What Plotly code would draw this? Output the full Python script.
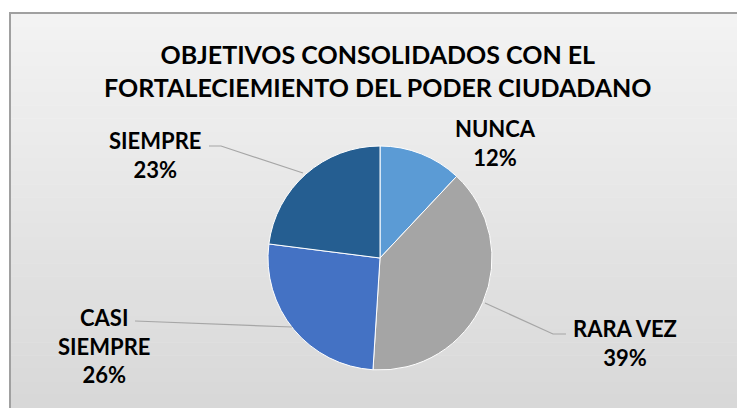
import plotly.graph_objects as go

# ---- data ----
title_lines = ["OBJETIVOS CONSOLIDADOS CON EL", "FORTALECIEMIENTO DEL PODER CIUDADANO"]
categories = ["NUNCA", "RARA VEZ", "CASI SIEMPRE", "SIEMPRE"]
label_text = ["NUNCA", "RARA VEZ", "CASI<br>SIEMPRE", "SIEMPRE"]
values = [12, 39, 26, 23]
colors = ["#5B9BD5", "#A5A5A5", "#4472C4", "#255E91"]

W, H = 737, 408
FONT = "Lato, Calibri, 'Open Sans', sans-serif"

def px(X):
    return X / W

def py(Y):
    return 1 - Y / H

# pie placement (screen pixels)
cx, cy, r = 380, 258, 112

fig = go.Figure()
fig.add_trace(go.Pie(
    labels=categories,
    values=values,
    sort=False,
    direction="clockwise",
    rotation=0,
    textinfo="none",
    hoverinfo="label+percent",
    marker=dict(colors=colors, line=dict(color="#ffffff", width=1)),
    domain=dict(x=[px(cx - r), px(cx + r)], y=[py(cy + r), py(cy - r)]),
    showlegend=False,
))

shapes = []
# chart area background with a soft vertical gradient (box runs past right/bottom edges)
x0, x1, y0, y1 = 10, W, 13, H
n = 30
top_c, bot_c = (243, 243, 243), (216, 216, 216)
for i in range(n):
    t = i / (n - 1)
    c = tuple(round(top_c[k] + (bot_c[k] - top_c[k]) * t) for k in range(3))
    ya = y0 + (y1 - y0) * i / n
    yb = y0 + (y1 - y0) * (i + 1) / n + 0.5
    shapes.append(dict(type="rect", xref="paper", yref="paper", layer="below",
                       x0=px(x0), x1=px(x1), y0=py(min(yb, H)), y1=py(ya),
                       fillcolor="rgb(%d,%d,%d)" % c, line=dict(width=0)))

# leader lines / frame edges
def leader(points, color="#a6a6a6", width=1.2):
    path = "M " + " L ".join("%f,%f" % (px(a), py(b)) for a, b in points)
    return dict(type="path", xref="paper", yref="paper", path=path,
                line=dict(color=color, width=width))

shapes.append(leader([(x0, H), (x0, y0), (W, y0)], color="#a0a0a0", width=2))
shapes.append(leader([(209, 146), (221, 146), (303, 173)]))
shapes.append(leader([(135, 321), (292, 327)]))
shapes.append(leader([(485, 303), (553, 334), (566, 334)]))

annotations = [
    dict(text="<b>" + "<br>".join(title_lines) + "</b>", x=px(378), y=py(70),
         xref="paper", yref="paper", showarrow=False,
         font=dict(family=FONT, size=25, color="#000000"),
         xanchor="center", yanchor="middle"),
]
label_pos = {
    "NUNCA": (495, 143),
    "RARA VEZ": (625, 343),
    "CASI SIEMPRE": (104, 346),
    "SIEMPRE": (155, 155),
}
total = sum(values)
for cat, txt, v in zip(categories, label_text, values):
    pct = round(100 * v / total)
    lx, ly = label_pos[cat]
    annotations.append(dict(
        text="<b>%s<br>%d%%</b>" % (txt, pct), x=px(lx), y=py(ly),
        xref="paper", yref="paper", showarrow=False, align="center",
        font=dict(family=FONT, size=22, color="#000000"),
        xanchor="center", yanchor="middle"))

fig.update_layout(
    width=W, height=H,
    margin=dict(l=0, r=0, t=0, b=0),
    paper_bgcolor="#ffffff",
    plot_bgcolor="#ffffff",
    shapes=shapes,
    annotations=annotations,
)

fig.write_html(
    "out.html",
    config={"displayModeBar": False},
    post_script=("document.documentElement.style.overflow='hidden';"
                 "document.body.style.margin='0';"
                 "document.body.style.overflow='hidden';"),
)
